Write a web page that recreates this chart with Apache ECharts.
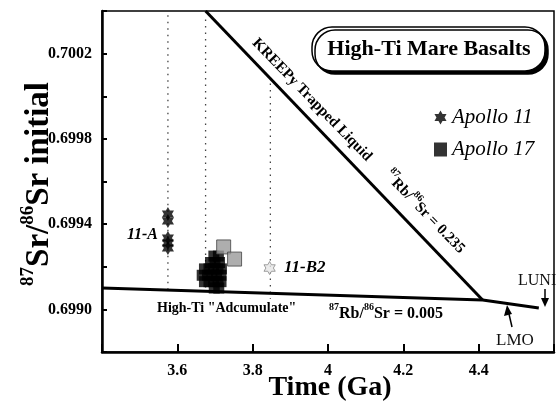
<!DOCTYPE html>
<html><head><meta charset="utf-8">
<script src="https://cdn.jsdelivr.net/npm/echarts@6/dist/echarts.min.js"></script>
<style>html,body{margin:0;padding:0;background:#fff;}#c{width:557px;height:409px;}</style>
</head><body><div id="c"></div>
<script>
// ---- data ----
const xTicks = [3.6, 3.8, 4.0, 4.2, 4.4];
const yTickLabels = ['0.6990', '0.6994', '0.6998', '0.7002'];
const apollo11 = [[3.575, 0.699447], [3.575, 0.699415], [3.575, 0.699335], [3.575, 0.699311], [3.575, 0.699288]];
const apollo17 = [
  [3.697, 0.69925], [3.709, 0.69925],
  [3.688, 0.69922], [3.700, 0.69922], [3.712, 0.69922],
  [3.672, 0.69919], [3.684, 0.69919], [3.696, 0.69919], [3.708, 0.69919], [3.717, 0.69919],
  [3.666, 0.69916], [3.680, 0.69916], [3.692, 0.69916], [3.704, 0.69916], [3.716, 0.69916],
  [3.672, 0.69913], [3.684, 0.69913], [3.696, 0.69913], [3.708, 0.69913], [3.716, 0.69913],
  [3.698, 0.69910], [3.710, 0.69910]
];
const apollo17Gray = [[3.723, 0.699293], [3.752, 0.699236]];
const b2Star = [[3.845, 0.699194]];
const kreepLine = [[3.675, 0.7004], [4.4105, 0.699044]];
const adcumLine = [[3.4, 0.69910], [4.4105, 0.699044], [4.5597, 0.699006]];
const dotA = [[3.575, 0.70038], [3.575, 0.69909]];
const dotB = [[3.675, 0.70036], [3.675, 0.69910]];
const dotC = [[3.847, 0.70006], [3.847, 0.69905]];

const starPath = 'path://M50 0L64.4 25L93.3 25L78.9 50L93.3 75L64.4 75L50 100L35.6 75L6.7 75L21.1 50L6.7 25L35.6 25Z';
const serif = '"Liberation Serif", "DejaVu Serif", serif';

const chart = echarts.init(document.getElementById('c'), null, {renderer: 'canvas'});

function dotted(d) {
  return {type: 'line', data: d, symbol: 'none', silent: true, z: 1,
    lineStyle: {color: '#444', width: 1.3, type: [1.5, 5]}};
}
function supText(a, b, c, d, big, small, pad) {
  return {
    text: '{s|' + a + '}{b|' + b + '}{s|' + c + '}{b|' + d + '}',
    rich: {b: {font: 'bold ' + big + 'px ' + serif, fill: '#000', lineHeight: big + 4, verticalAlign: 'bottom'},
           s: {font: 'bold ' + small + 'px ' + serif, fill: '#000', lineHeight: big + 4, verticalAlign: 'top', padding: [0, 0, pad, 0]}}
  };
}

const option = {
  animation: false,
  backgroundColor: '#fff',
  grid: {left: 102, top: 11, width: 458, height: 341, show: true, borderColor: '#000', borderWidth: 1.5},
  xAxis: {
    type: 'value', min: 3.4, max: 4.6, interval: 0.2,
    axisLine: {show: true, onZero: false, lineStyle: {color: '#000', width: 2.5}},
    axisTick: {show: true, inside: true, length: 8, lineStyle: {color: '#000', width: 2}},
    splitLine: {show: false},
    axisLabel: {
      margin: 11, color: '#000', fontFamily: serif, fontWeight: 'bold', fontSize: 16,
      formatter: v => {
        const r = Math.round(v * 10) / 10;
        return xTicks.some(t => Math.abs(t - r) < 1e-6) ? String(r) : '';
      }
    }
  },
  yAxis: {
    type: 'value', min: 0.6988, max: 0.7004, interval: 0.0002,
    axisLine: {show: true, onZero: false, lineStyle: {color: '#000', width: 2.5}},
    axisTick: {show: true, inside: true, length: 5, lineStyle: {color: '#000', width: 2}},
    splitLine: {show: false},
    axisLabel: {
      margin: 10, color: '#000', fontFamily: serif, fontWeight: 'bold', fontSize: 16,
      formatter: v => {
        const s = v.toFixed(4);
        return yTickLabels.indexOf(s) >= 0 ? s : '';
      }
    }
  },
  legend: {
    left: 429, top: 102, orient: 'vertical', itemGap: 11, itemWidth: 13, itemHeight: 14,
    textStyle: {fontFamily: serif, fontStyle: 'italic', fontSize: 21, color: '#000'},
    data: [{name: 'Apollo 11', icon: starPath}, {name: 'Apollo 17', icon: 'rect'}]
  },
  series: [
    dotted(dotA), dotted(dotB), dotted(dotC),
    {type: 'line', data: kreepLine, symbol: 'none', silent: true, z: 3,
      lineStyle: {color: '#000', width: 3}},
    {type: 'line', data: adcumLine, symbol: 'none', silent: true, z: 3,
      lineStyle: {color: '#000', width: 3}},
    {name: 'Apollo 11', type: 'scatter', data: apollo11, symbol: starPath, symbolKeepAspect: true,
      symbolSize: 14, itemStyle: {color: '#000'}, z: 5},
    {name: 'Apollo 17', type: 'scatter', data: apollo17, symbol: 'rect',
      symbolSize: 11, itemStyle: {color: '#000'}, z: 5},
    {type: 'scatter', data: apollo17Gray, symbol: 'rect', symbolSize: 14,
      itemStyle: {color: '#9a9a9a', borderColor: '#444', borderWidth: 1}, z: 6},
    {type: 'scatter', data: b2Star, symbol: starPath, symbolKeepAspect: true, symbolSize: 13,
      itemStyle: {color: '#e6e6e6', borderColor: '#888', borderWidth: 1}, z: 6}
  ],
  graphic: [
    // title box
    {type: 'rect', shape: {x: 312, y: 27, width: 233, height: 44, r: 20},
      style: {fill: '#fff', stroke: '#000', lineWidth: 1.5, shadowColor: '#000', shadowOffsetX: 3, shadowOffsetY: 3, shadowBlur: 0}, z: 10},
    {type: 'text', x: 429, y: 49, z: 11,
      style: {text: 'High-Ti Mare Basalts', fill: '#000', font: 'bold 22px ' + serif, align: 'center', verticalAlign: 'middle'}},
    // y-axis title
    {type: 'text', x: 37, y: 184, rotation: Math.PI / 2, z: 11,
      style: Object.assign(supText('87', 'Sr/', '86', 'Sr initial', 33, 19, 15), {align: 'center', verticalAlign: 'middle'})},
    // x-axis title
    {type: 'text', x: 330, y: 388, z: 11,
      style: {text: 'Time (Ga)', fill: '#000', font: 'bold 28px ' + serif, align: 'center', verticalAlign: 'middle'}},
    // KREEPy labels
    {type: 'text', x: 312, y: 100, rotation: -0.8, z: 11,
      style: {text: 'KREEPy Trapped Liquid', fill: '#000', font: 'bold 15px ' + serif, align: 'center', verticalAlign: 'middle'}},
    {type: 'text', x: 426, y: 211, rotation: -0.8, z: 11,
      style: Object.assign(supText('87', 'Rb/', '86', 'Sr = 0.235', 15, 10, 6), {align: 'center', verticalAlign: 'middle'})},
    // adcumulate labels
    {type: 'text', x: 157, y: 308, z: 11,
      style: {text: 'High-Ti "Adcumulate"', fill: '#000', font: 'bold 14px ' + serif, align: 'left', verticalAlign: 'middle'}},
    {type: 'text', x: 329, y: 312, z: 11,
      style: Object.assign(supText('87', 'Rb/', '86', 'Sr = 0.005', 16, 10, 7), {align: 'left', verticalAlign: 'middle'})},
    // point labels
    {type: 'text', x: 158, y: 235, z: 11,
      style: {text: '11-A', fill: '#000', font: 'italic bold 16px ' + serif, align: 'right', verticalAlign: 'middle'}},
    {type: 'text', x: 284, y: 268, z: 11,
      style: {text: '11-B2', fill: '#000', font: 'italic bold 17px ' + serif, align: 'left', verticalAlign: 'middle'}},
    // LUNI / LMO
    {type: 'text', x: 518, y: 281, z: 11,
      style: {text: 'LUNI', fill: '#111', font: '16px ' + serif, align: 'left', verticalAlign: 'middle'}},
    {type: 'line', shape: {x1: 545, y1: 289, x2: 545, y2: 300}, style: {stroke: '#000', lineWidth: 1.5}, z: 11},
    {type: 'polygon', shape: {points: [[541, 298], [549, 298], [545, 307]]}, style: {fill: '#000'}, z: 11},
    {type: 'text', x: 496, y: 341, z: 11,
      style: {text: 'LMO', fill: '#111', font: '17px ' + serif, align: 'left', verticalAlign: 'middle'}},
    {type: 'line', shape: {x1: 512, y1: 327, x2: 509, y2: 314}, style: {stroke: '#000', lineWidth: 1.5}, z: 11},
    {type: 'polygon', shape: {points: [[504, 316], [512, 314], [507, 305]]}, style: {fill: '#000'}, z: 11}
  ]
};
chart.setOption(option);
</script></body></html>
